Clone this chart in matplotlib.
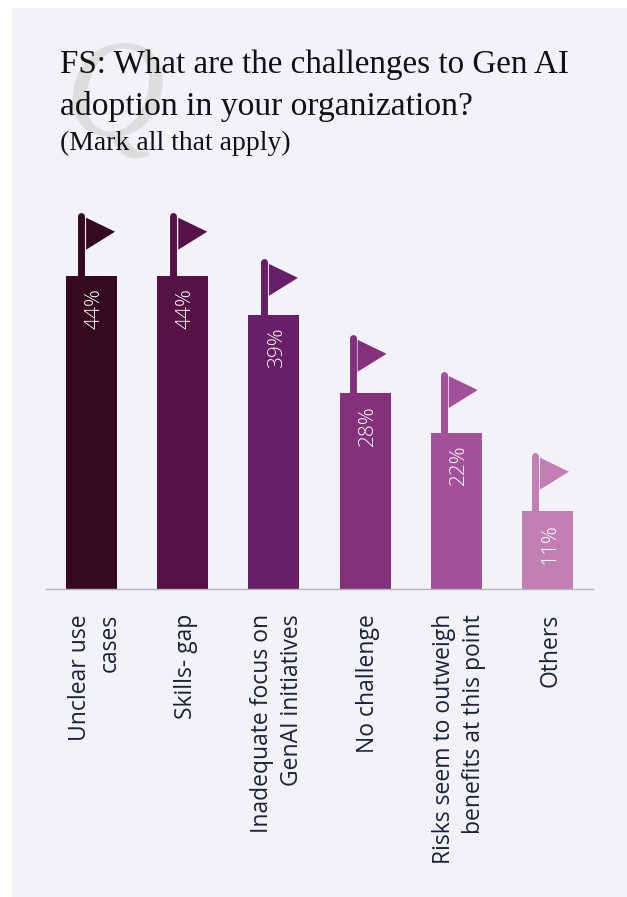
import matplotlib
matplotlib.use("Agg")
import matplotlib.pyplot as plt
from matplotlib.patches import Rectangle
from matplotlib.transforms import ScaledTranslation

categories = ["Unclear use\ncases", "Skills- gap", "Inadequate focus on\nGenAI initiatives",
              "No challenge", "Risks seem to outweigh\nbenefits at this point", "Others"]
heights = [44.1, 44.1, 38.6, 27.6, 22.0, 11.0]
value_labels = ["44%", "44%", "39%", "28%", "22%", "11%"]
flag_tops = [53.0, 53.0, 46.5, 35.8, 30.7, 19.2]
colors = ["#350a1f", "#541245", "#691f67", "#85307b", "#a4519b", "#c27fb4"]

BG = "#f2f2f8"
TEXT = "#1a2238"
# size of one pixel in data units
PX = 1 / 91.2
PY = 1 / 7.1
flag_shift = [0, 1, 0.5, -2, -2, -2]

fig = plt.figure(figsize=(6.27, 8.97), dpi=100, facecolor="white")
fig.patches.append(Rectangle((12 / 627, 0), 615 / 627, 889 / 897, transform=fig.transFigure,
                             facecolor=BG, edgecolor="none", zorder=-5))

ax = fig.add_axes([46 / 627, (897 - 589) / 897, 547 / 627, 440 / 897])
ax.patch.set_alpha(0)
x = list(range(len(categories)))
ax.bar(x, heights, width=0.56, color=colors, zorder=2)

for i in x:
    top = flag_tops[i]
    c = i + flag_shift[i] * PX
    pole_x = c - 10.5 * PX
    ax.plot([pole_x, pole_x], [heights[i], top - 3.5 * PY], color=colors[i], lw=5,
            solid_capstyle="round", zorder=1)
    ax.fill([c - 5.5 * PX, c + 23.5 * PX, c - 5.5 * PX],
            [top - 5 * PY, top - 19 * PY, top - 37 * PY], color=colors[i], lw=0)
    ax.text(i + 3 * PX, heights[i] - 12 * PY, value_labels[i], rotation=90, ha="center", va="top",
            color="white", fontsize=15, family="Open Sans", fontweight="light")

ax.set_xlim(-0.5, 5.5)
ax.set_ylim(0, 440 * PY)
for s in ["top", "left", "right"]:
    ax.spines[s].set_visible(False)
ax.spines["bottom"].set_color("#b4b6bc")
ax.spines["bottom"].set_linewidth(1)
ax.set_yticks([])
ax.set_xticks(x)
ax.set_xticklabels(categories, rotation=90, ha="center", va="top", multialignment="right",
                   fontsize=16.5, family="Open Sans", color=TEXT, linespacing=1.32)
ax.tick_params(axis="x", length=0, pad=18)
for lab in ax.get_xticklabels():
    lab.set_transform(lab.get_transform() + ScaledTranslation(3 / 100, 0, fig.dpi_scale_trans))

# watermark and title
fig.text(64 / 627, 1 - 135 / 897, "Q", fontsize=100, family="Liberation Serif", style="italic",
         color="#dddde0", ha="left", va="baseline", zorder=-1)
fig.text(60 / 627, 1 - 73 / 897, "FS: What are the challenges to Gen AI", fontsize=23.9,
         family="Liberation Serif", color="#111111", ha="left", va="baseline")
fig.text(60 / 627, 1 - 115 / 897, "adoption in your organization?", fontsize=24.2,
         family="Liberation Serif", color="#111111", ha="left", va="baseline")
fig.text(60 / 627, 1 - 150 / 897, "(Mark all that apply)", fontsize=20,
         family="Liberation Serif", color="#111111", ha="left", va="baseline")

fig.savefig("out.png", dpi=100)
